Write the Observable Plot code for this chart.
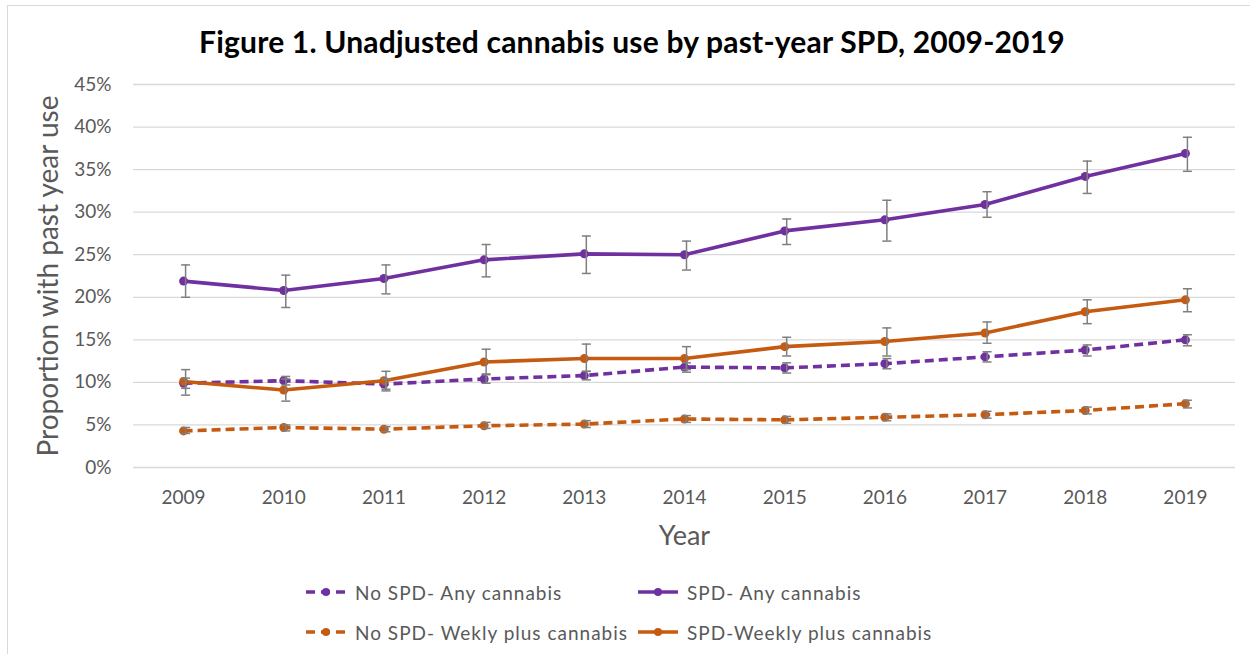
<!DOCTYPE html>
<html>
<head>
<meta charset="utf-8">
<script src="https://cdn.jsdelivr.net/npm/d3@7"></script>
<script src="https://cdn.jsdelivr.net/npm/@observablehq/plot@0.6"></script>
<style>
  html, body { margin: 0; padding: 0; background: #fff; }
  #wrap { position: relative; width: 1250px; height: 654px; overflow: hidden; font-family: Lato, "Open Sans", sans-serif; }
  #border { position: absolute; left: 7px; top: 5px; width: 1260px; height: 670px; border: 1px solid #d9d9d9; box-sizing: border-box; }
  #title { position: absolute; left: 0; width: 1264px; top: 21px; text-align: center; font-weight: bold; font-size: 30px; color: #000; line-height: 40px; letter-spacing: 0.2px; }
  #chart { position: absolute; left: 0; top: 70px; }
  .leg { position: absolute; display: flex; align-items: center; font-size: 19px; color: #595959; letter-spacing: 1px; }
  .leg svg { margin-right: 8px; }
</style>
</head>
<body>
<div id="wrap">
  <div id="border"></div>
  <div id="title">Figure 1. Unadjusted cannabis use by past-year SPD, 2009-2019</div>
  <div id="chart"></div>
  <div id="legend"></div>
</div>
<script>
const years = [2009, 2010, 2011, 2012, 2013, 2014, 2015, 2016, 2017, 2018, 2019];
const seriesNames = ["No SPD- Any cannabis", "SPD- Any cannabis", "No SPD- Wekly plus cannabis", "SPD-Weekly plus cannabis"];
const seriesColors = ["#7030A0", "#7030A0", "#C55A11", "#C55A11"];
const seriesDashed = [true, false, true, false];

// values in percent
const noSpdAny    = [9.9, 10.2, 9.8, 10.4, 10.8, 11.8, 11.7, 12.2, 13.0, 13.8, 15.0];
const noSpdAnyLo  = [9.3, 9.7, 9.2, 9.9, 10.3, 11.2, 11.1, 11.6, 12.4, 13.1, 14.3];
const noSpdAnyHi  = [10.5, 10.7, 10.4, 10.9, 11.3, 12.3, 12.3, 12.8, 13.6, 14.4, 15.6];

const spdAny      = [21.9, 20.8, 22.2, 24.4, 25.1, 25.0, 27.8, 29.1, 30.9, 34.2, 36.9];
const spdAnyLo    = [20.0, 18.8, 20.4, 22.4, 22.8, 23.2, 26.2, 26.6, 29.4, 32.2, 34.8];
const spdAnyHi    = [23.8, 22.6, 23.8, 26.2, 27.2, 26.6, 29.2, 31.4, 32.4, 36.0, 38.8];

const noSpdWk     = [4.3, 4.7, 4.5, 4.9, 5.1, 5.7, 5.6, 5.9, 6.2, 6.7, 7.5];
const noSpdWkLo   = [4.0, 4.3, 4.2, 4.6, 4.7, 5.3, 5.2, 5.5, 5.8, 6.3, 7.0];
const noSpdWkHi   = [4.7, 5.0, 4.8, 5.3, 5.5, 6.1, 6.0, 6.3, 6.6, 7.1, 7.9];

const spdWk       = [10.1, 9.1, 10.2, 12.4, 12.8, 12.8, 14.2, 14.8, 15.8, 18.3, 19.7];
const spdWkLo     = [8.5, 7.8, 9.0, 11.0, 11.3, 11.5, 13.1, 13.1, 14.6, 16.9, 18.3];
const spdWkHi     = [11.5, 10.4, 11.3, 13.9, 14.5, 14.2, 15.3, 16.4, 17.1, 19.7, 21.0];

const yTicks = [0, 5, 10, 15, 20, 25, 30, 35, 40, 45];
const yLabel = "Proportion with past year use";
const xLabel = "Year";

const allVals = [[noSpdAny, noSpdAnyLo, noSpdAnyHi], [spdAny, spdAnyLo, spdAnyHi], [noSpdWk, noSpdWkLo, noSpdWkHi], [spdWk, spdWkLo, spdWkHi]];
const rows = [];
allVals.forEach(([v, lo, hi], si) => {
  years.forEach((yr, i) => rows.push({series: seriesNames[si], year: yr, value: v[i] / 100, lo: lo[i] / 100, hi: hi[i] / 100}));
});

const cap = 0.045;
const marks = [
  Plot.ruleY(yTicks.map(t => t / 100), {stroke: "#d9d9d9", strokeWidth: 1.3})
];
seriesNames.forEach((name, si) => {
  const data = rows.filter(r => r.series === name);
  marks.push(Plot.line(data, {x: "year", y: "value", stroke: seriesColors[si], strokeWidth: 3.6,
    strokeDasharray: seriesDashed[si] ? "9,5" : null, strokeLinecap: "butt"}));
  marks.push(Plot.dot(data, {x: "year", y: "value", r: 4.5, fill: seriesColors[si], stroke: "none"}));
});
marks.push(
  Plot.ruleX(rows, {x: "year", y1: "lo", y2: "hi", stroke: "#7f7f7f", strokeWidth: 1.5, dx: 2}),
  Plot.link(rows, {x1: d => d.year - cap, x2: d => d.year + cap, y1: "lo", y2: "lo", stroke: "#7f7f7f", strokeWidth: 1.5, dx: 2}),
  Plot.link(rows, {x1: d => d.year - cap, x2: d => d.year + cap, y1: "hi", y2: "hi", stroke: "#7f7f7f", strokeWidth: 1.5, dx: 2}),
  Plot.text([yLabel], {frameAnchor: "left", textAnchor: "middle", rotate: -90, dx: -84, fontSize: 28, fill: "#595959"}),
  Plot.text([xLabel], {frameAnchor: "bottom", textAnchor: "middle", dy: 77, fontSize: 27, fill: "#595959"})
);

const chart = Plot.plot({
  width: 1250,
  height: 490,
  marginLeft: 133,
  marginRight: 15,
  marginTop: 14,
  marginBottom: 93,
  style: {fontFamily: "Lato, 'Open Sans', sans-serif", fontSize: "19px", color: "#595959", background: "transparent", overflow: "visible"},
  x: {domain: [2008.5, 2019.5], ticks: years, tickFormat: d => String(d), tickSize: 0, tickPadding: 23, label: null},
  y: {domain: [0, 0.45], ticks: yTicks.map(t => t / 100), tickFormat: d3.format(".0%"), tickSize: 0, tickPadding: 22, label: null},
  marks
});
document.getElementById("chart").appendChild(chart);

// legend
const legendPos = [[305, 592], [637, 592], [305, 632], [637, 632]];
const legend = document.getElementById("legend");
seriesNames.forEach((name, si) => {
  const item = document.createElement("div");
  item.className = "leg";
  item.style.left = legendPos[si][0] + "px";
  item.style.top = (legendPos[si][1] - 13) + "px";
  const sw = d3.create("svg").attr("width", 42).attr("height", 26);
  sw.append("line").attr("x1", 1).attr("x2", 41).attr("y1", 13).attr("y2", 13)
    .attr("stroke", seriesColors[si]).attr("stroke-width", 3.6)
    .attr("stroke-dasharray", seriesDashed[si] ? "9,6" : null);
  sw.append("circle").attr("cx", 21).attr("cy", 13).attr("r", 4).attr("fill", seriesColors[si]);
  item.appendChild(sw.node());
  const t = document.createElement("span");
  t.textContent = name;
  item.appendChild(t);
  legend.appendChild(item);
});
</script>
</body>
</html>
